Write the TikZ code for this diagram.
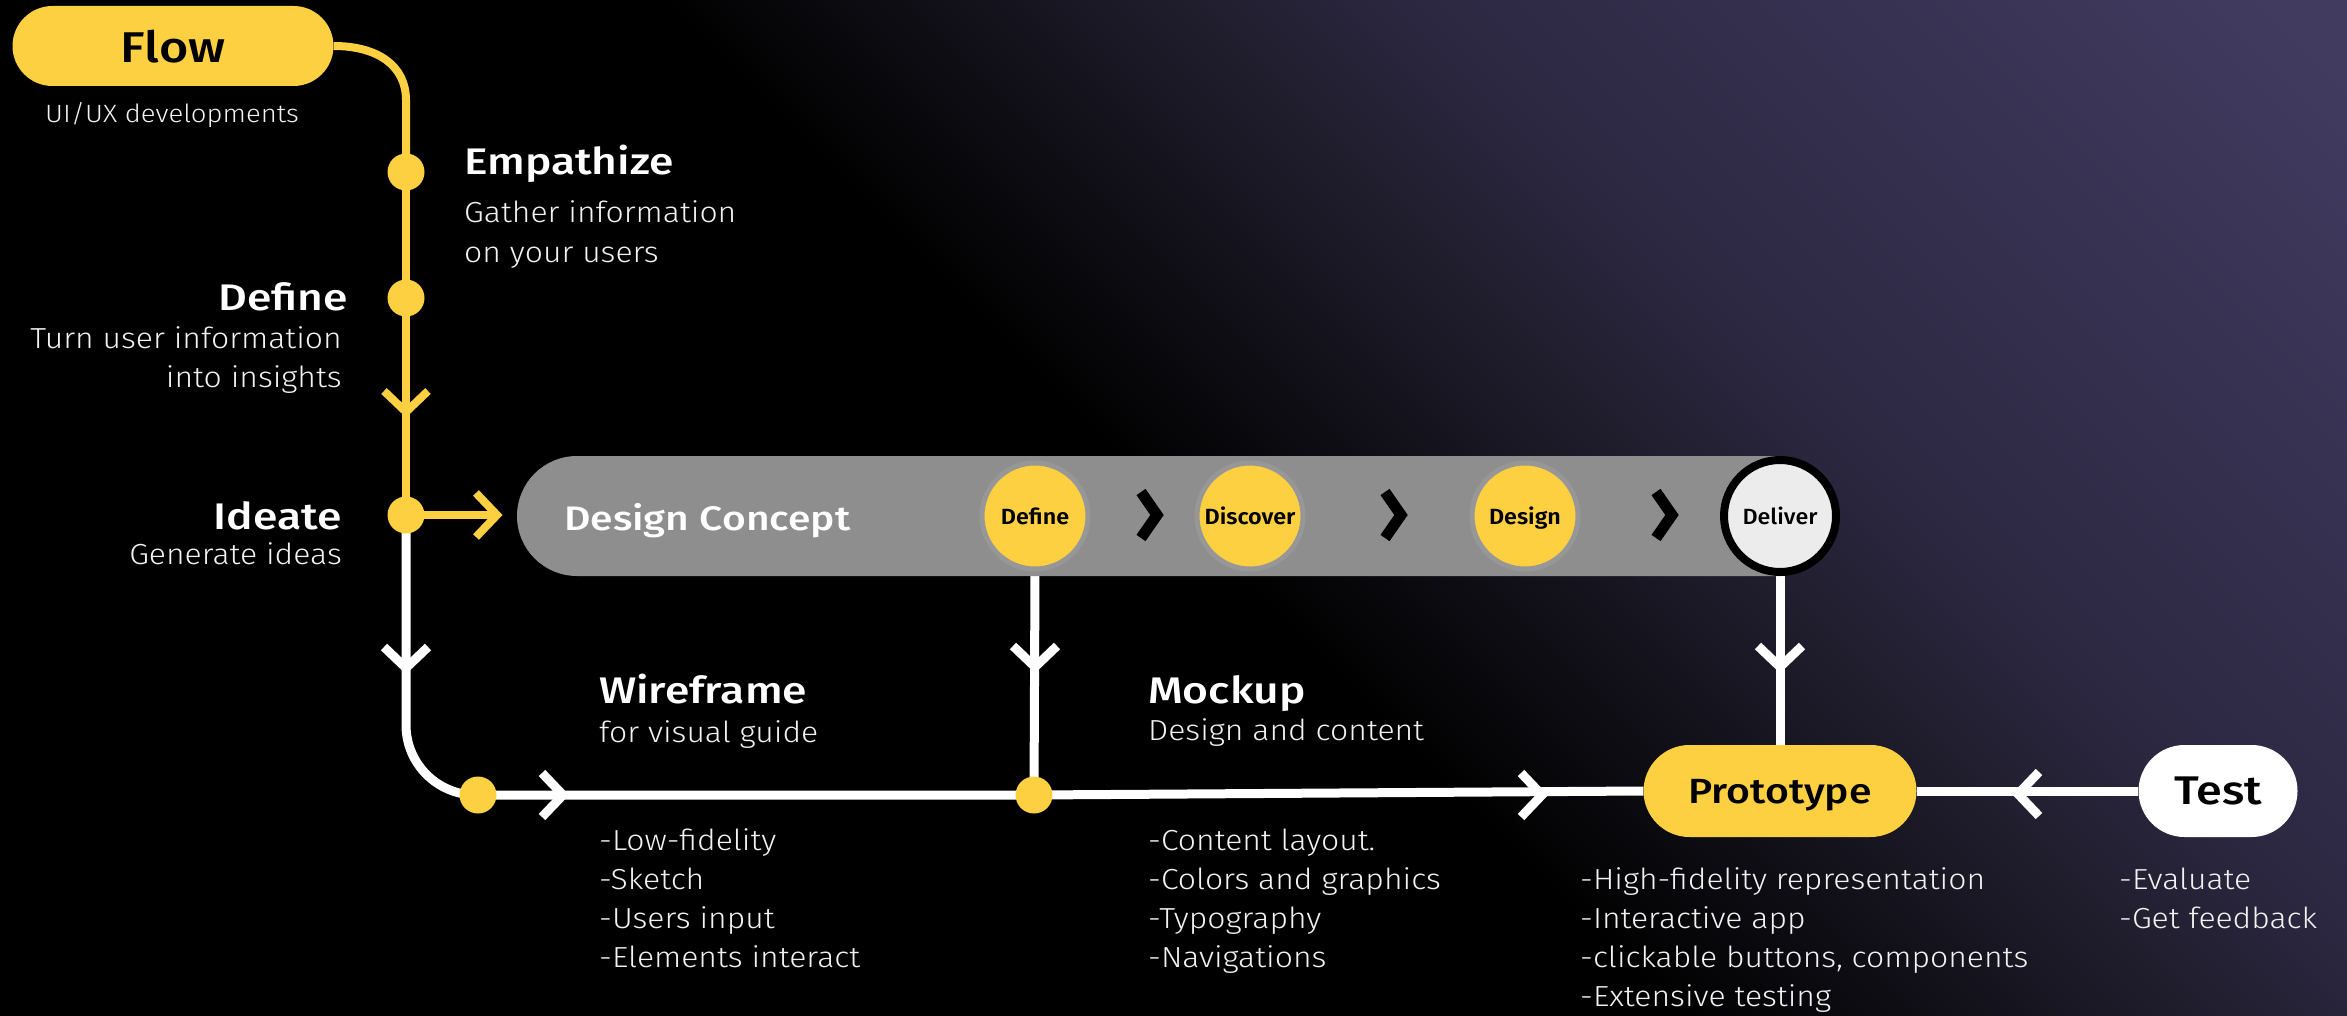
\documentclass[tikz,border=0pt]{standalone}
\usepackage{fontspec}
\setmainfont{Fira Sans Light}[FakeStretch=1.1]
\newfontfamily\medf{Fira Sans Medium}[FakeStretch=1.2]
\newfontfamily\pillf{Fira Sans Medium}[FakeStretch=1.17]
\newfontfamily\semif{Fira Sans SemiBold}[FakeStretch=1.06]
\newfontfamily\delf{Fira Sans Medium}[FakeStretch=1.06]
\usetikzlibrary{shapes.misc}
\definecolor{yel}{HTML}{FDD041}
\definecolor{pillgray}{HTML}{8E8E8E}
\definecolor{halo}{HTML}{979797}
\definecolor{delfill}{HTML}{ECECEC}
\definecolor{txt}{HTML}{F2F2F2}
\definecolor{bgA}{HTML}{1F1D2C}
\definecolor{bgB}{HTML}{2C2842}
\definecolor{bgC}{HTML}{413B60}
\pgfdeclarehorizontalshading{bgsh}{2380pt}{color(0pt)=(black); color(1180pt)=(black); color(1545pt)=(bgA); color(1722pt)=(bgB); color(2323pt)=(bgC); color(2380pt)=(bgC)}
\pgfdeclarelayer{back}
\pgfdeclarelayer{lines}
\pgfsetlayers{back,lines,main}
\tikzset{
  dot/.style={circle, fill=yel, minimum size=37pt, inner sep=0pt},
  yline/.style={draw=yel, line width=8pt},
  wline/.style={draw=white, line width=9pt},
  title/.style={text=white, font=\medf\fontsize{37}{40}\selectfont, inner sep=0pt},
  desc/.style={text=txt, font=\fontsize{29}{32}\selectfont, inner sep=0pt},
  pill/.style={rounded rectangle, inner sep=0pt, text depth=0pt},
  stage/.style={circle, fill=yel, draw=halo, line width=5pt, minimum size=106pt, inner sep=0pt, text depth=0pt, text=black, font=\semif\fontsize{22}{24}\selectfont},
  pics/chev/.style={code={\draw[line width=9pt, line join=miter, #1] (-21,-22) -- (0,0) -- (-21,22);}},
  pics/chevb/.style={code={\draw[line width=11pt, line join=miter, black] (-16,-23) -- (0,0) -- (-16,23);}}
}
\begin{document}
\begin{tikzpicture}[x=1pt,y=-1pt]
\useasboundingbox (0,0) rectangle (2347,1016);
\begin{pgfonlayer}{back}
\begin{scope}
\clip (0,0) rectangle (2347,1016);
\fill[black] (0,0) rectangle (2347,1016);
\node[anchor=south west, inner sep=0pt, outer sep=0pt, rotate=45] (bgnode) at (1174,2189) {\pgfuseshading{bgsh}};
\end{scope}
\end{pgfonlayer}

% top nodes
\node[pill, fill=yel, minimum width=321pt, minimum height=80pt, text=black, font=\pillf\fontsize{43}{46}\selectfont] (flow) at (173,46) {Flow};
\node[anchor=base west, text=txt, font=\fontsize{25}{28}\selectfont, inner sep=0pt] (flowsub) at (45,123) {UI/UX developments};

\node[dot] (dE) at (406,172) {};
\node[dot] (dD) at (406,298) {};
\node[dot] (dI) at (406,515) {};

\node[title, anchor=base west] (tEmp) at (464,175) {Empathize};
\node[desc, anchor=base west] (sEmp1) at (464,223) {Gather information};
\node[desc, anchor=base west] (sEmp2) at (464,263) {on your users};

\node[title, anchor=base east] (tDef) at (348,310) {Define};
\node[desc, anchor=base east] (sDef1) at (342,348) {Turn user information};
\node[desc, anchor=base east] (sDef2) at (342,387) {into insights};

\node[title, anchor=base east] (tIde) at (342,529) {Ideate};
\node[desc, anchor=base east] (sIde) at (342,564) {Generate ideas};

% design concept band
\node[pill, rounded rectangle right arc=none, fill=pillgray, minimum width=1264pt, minimum height=120pt] (band) at (1149,516) {};
\node[anchor=base west, text=white, font=\medf\fontsize{34}{36}\selectfont, inner sep=0pt] (dc) at (564,530) {Design Concept};
\node[stage] (sDefine) at (1035,516) {Define};
\node[stage] (sDisc) at (1250,516) {Discover};
\node[stage] (sDesign) at (1525,516) {Design};
\node[circle, fill=delfill, draw=black, line width=8pt, minimum size=112pt, inner sep=0pt, text depth=0pt, text=black, font=\delf\fontsize{22}{24}\selectfont] (sDel) at (1780,516) {Deliver};
\pic at (1157,515) {chevb};
\pic at (1401,515) {chevb};
\pic at (1672,515) {chevb};

% bottom row
\node[dot] (dW) at (478,795) {};
\node[dot] (dM) at (1034,795) {};
\node[pill, fill=yel, minimum width=273pt, minimum height=92pt, text=black, font=\pillf\fontsize{35}{38}\selectfont] (proto) at (1780,791) {Prototype};
\node[pill, fill=white, minimum width=159pt, minimum height=92pt, text=black, font=\pillf\fontsize{40}{42}\selectfont] (test) at (2218,791) {Test};

\node[title, anchor=base west] (tWire) at (599,703) {Wireframe};
\node[desc, anchor=base west] (sWire) at (599,742) {for visual guide};
\node[title, anchor=base west] (tMock) at (1148,703) {Mockup};
\node[desc, anchor=base west] (sMock) at (1148,740) {Design and content};

\foreach \t [count=\i] in {-Low-fidelity,-Sketch,-Users input,-Elements interact}
  \node[desc, anchor=base west] (lw\i) at (599,{850+39.3*(\i-1)}) {\t};
\foreach \t [count=\i] in {-Content layout.,-Colors and graphics,-Typography,-Navigations}
  \node[desc, anchor=base west] (lm\i) at (1148,{850+39.3*(\i-1)}) {\t};
\foreach \t [count=\i] in {-High-fidelity representation,-Interactive app,{-clickable buttons, components},-Extensive testing}
  \node[desc, anchor=base west] (lp\i) at (1580,{889+39.3*(\i-1)}) {\t};
\foreach \t [count=\i] in {-Evaluate,-Get feedback}
  \node[desc, anchor=base west] (lt\i) at (2119,{889+39.3*(\i-1)}) {\t};

\coordinate (ideTip) at (497,515);

% connectors
\begin{pgfonlayer}{lines}
\draw[yline] (flow.east) .. controls (378,46) and (406,66) .. (406,100) -- (dE.center);
\draw[yline] (dE.center) -- (dD.center) -- (dI.center);
\draw[yline] (dI.center) -- (ideTip);
\draw[wline, rounded corners=70pt] (dI.center) |- (dW.center);
\draw[wline] (dW.center) -- (dM.center) -- (proto.west);
\draw[wline] (proto.east) -- (test.west);
\draw[wline] (sDefine.south) -- (dM.center);
\draw[wline] (sDel.south) -- (proto.north);
\end{pgfonlayer}

% chevrons
\pic[rotate=-90] at (406,412) {chev={yel, line width=8pt}};
\pic at (ideTip) {chev={yel, line width=8pt}};
\pic[rotate=-90] at (406,668) {chev=white};
\pic at (563,795) {chev=white};
\pic[rotate=-90] at (1035,667) {chev=white};
\pic at (1542,795) {chev=white};
\pic[rotate=-90] at (1780,667) {chev=white};
\pic[rotate=180] at (2018,794) {chev=white};
\end{tikzpicture}
\end{document}
